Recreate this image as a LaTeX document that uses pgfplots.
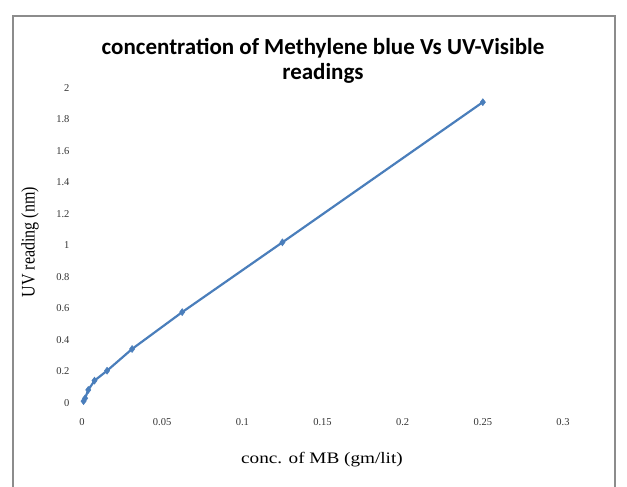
\documentclass[border=0pt]{standalone}
\usepackage{pgfplots}
\pgfplotsset{compat=1.18}
\usepackage{fontspec}
\setmainfont{Liberation Serif}
\newfontfamily\titlefont{Carlito}
\definecolor{exblue}{HTML}{4A7EBB}
\begin{document}
\begin{tikzpicture}
\begin{axis}[
  at={(0pt,0pt)}, anchor=south west,
  scale only axis, width=481pt, height=315pt,
  xmin=0, xmax=0.3, ymin=0, ymax=2,
  axis line style={draw=none},
  major tick length=0pt,
  xtick={0,0.05,0.1,0.15,0.2,0.25,0.3},
  xticklabels={0,0.05,0.1,0.15,0.2,0.25,0.3},
  ytick={0,0.2,0.4,0.6,0.8,1,1.2,1.4,1.6,1.8,2},
  yticklabels={0,0.2,0.4,0.6,0.8,1,1.2,1.4,1.6,1.8,2},
  ticklabel style={font=\fontsize{10.5}{10.5}\selectfont, text=black!80},
  xticklabel style={yshift=-12pt},
  yticklabel style={xshift=-9pt},
  clip=false,
]
\addplot[color=exblue, line width=2.2pt, mark=diamond*, mark size=3.5pt, mark options={fill=exblue, draw=exblue, line width=0.5pt}]
coordinates {
(0.000977,0.012)
(0.001953,0.03)
(0.003906,0.083)
(0.0078125,0.142)
(0.015625,0.205)
(0.03125,0.343)
(0.0625,0.577)
(0.125,1.02)
(0.25,1.91)
};
\end{axis}
\node[font=\titlefont\bfseries\fontsize{23}{25}\selectfont] at (241pt,355pt) {concentration of Methylene blue Vs UV-Visible};
\node[font=\titlefont\bfseries\fontsize{23}{25}\selectfont] at (241pt,330pt) {readings};
\node[font=\fontsize{16}{16}\selectfont, xscale=1.2] at (240pt,-57pt) {conc. of MB (gm/lit)};
\node[font=\fontsize{16}{16}\selectfont, rotate=90, yscale=1.2] at (-52pt,161pt) {UV reading (nm)};
\draw[black!45, line width=1.5pt] (-69pt,-90pt) -- (-69pt,387pt) -- (533pt,387pt) -- (533pt,-90pt);
\pgfresetboundingbox
\useasboundingbox (-82pt,-84pt) rectangle (545pt,403pt);
\end{tikzpicture}
\end{document}
